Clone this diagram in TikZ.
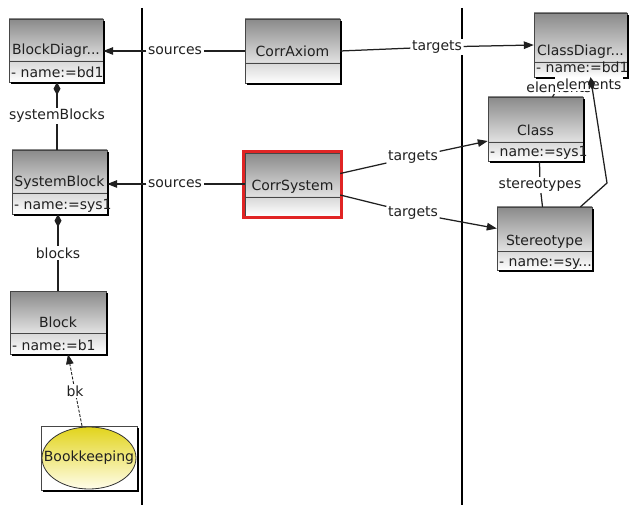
\documentclass[tikz,border=0pt]{standalone}
\usepackage{fontspec}
\setmainfont{DejaVu Sans}
\usetikzlibrary{arrows.meta,calc,fit}

\definecolor{hdtop}{HTML}{8A8A8A}
\definecolor{hdbot}{HTML}{E2E2E2}
\definecolor{attop}{HTML}{D8D8D8}
\definecolor{inktext}{HTML}{202020}
\definecolor{ylwtop}{HTML}{E2D41C}
\definecolor{ylwbot}{HTML}{FFFDEA}
\definecolor{selred}{HTML}{E02424}

\tikzset{
  txt/.style={font=\fontsize{14}{16}\selectfont, text=inktext, inner sep=0pt},
  lbl/.style={txt, fill=white, inner sep=1.5pt},
  boxline/.style={draw=gray!55!black, line width=0.8pt},
  boxshadow/.style={draw=black, line width=2pt},
  conn/.style={draw=inktext, line width=1.25pt},
  tri/.style={-{Triangle[length=10pt,width=7.5pt]}},
  dmd/.style={{Diamond[length=13pt,width=7pt]}-},
  lane/.style={draw=black, line width=1.8pt}
}

% class box: name, left, top, right, divider, bottom, title, attribute
\newcommand\umlclass[8]{%
  \shade[top color=hdtop,bottom color=hdbot] (#2,#3) rectangle (#4,#5);
  \shade[top color=attop,bottom color=white] (#2,#5) rectangle (#4,#6);
  \draw[boxline] (#2,#3) rectangle (#4,#6);
  \draw[boxline] (#2,#5) -- (#4,#5);
  \draw[boxshadow] (#4+1,#3+2) -- (#4+1,#6+1) -- (#2+2,#6+1);
  \node[txt,anchor=base] at ({(#2+#4)/2},#5-6) {#7};
  \node[txt,anchor=base west] at (#2+2,#6-4) {#8};
  \node[inner sep=0pt,fit={(#2,#3) (#4,#6)}] (#1) {};
}

\begin{document}
\begin{tikzpicture}[x=1pt,y=-1pt]
\useasboundingbox[fill=white] (0,0) rectangle (629,505);

% swimlane separators
\draw[lane] (142,8) -- (142,505);
\draw[lane] (462,8) -- (462,505);

% left lane
\umlclass{BlockDiagram}{9}{19}{103}{61}{82}{BlockDiagr...}{- name:=bd1}
\umlclass{SystemBlock}{12}{150}{107}{193}{214}{SystemBlock}{- name:=sys1}
\umlclass{Block}{10}{291}{106}{333}{354}{Block}{- name:=b1}

% bookkeeping element
\fill[white] (41,426) rectangle (137,490);
\shade[top color=ylwtop,bottom color=ylwbot,draw=gray!40!black,line width=0.8pt]
  (89,458) ellipse [x radius=47, y radius=31];
\draw[boxline] (41,426) rectangle (137,490);
\draw[boxshadow] (138,428) -- (138,491) -- (43,491);
\node[inner sep=0pt,fit={(41,426) (137,490)}] (Bookkeeping) {};
\node[txt] at (89,458) {Bookkeeping};

% middle lane
\umlclass{CorrAxiom}{245}{19}{340}{63}{83}{CorrAxiom}{}
\umlclass{CorrSystem}{245}{153}{340}{197}{216}{CorrSystem}{}
\draw[draw=selred,line width=2.4pt] (243.5,151.5) rectangle (341.5,217.5);

% right lane
\umlclass{ClassDiagram}{534}{13}{627}{62}{77}{ClassDiagr...}{- name:=bd1}
\umlclass{Class}{488}{97}{583}{142}{161}{Class}{- name:=sys1}
\umlclass{Stereotype}{497}{207}{592}{251}{270}{Stereotype}{- name:=sy...}

% sources
\node[lbl] (src1) at (175,51) {sources};
\draw[conn] (CorrAxiom.west) -- (src1);
\draw[conn,tri] (src1) -- (BlockDiagram.east |- src1);
\node[lbl] (src2) at (175,184) {sources};
\draw[conn] (CorrSystem.west |- src2) -- (src2);
\draw[conn,tri] (src2) -- (SystemBlock.east |- src2);

% targets
\node[lbl] (tg1) at (437,47) {targets};
\draw[conn] (CorrAxiom.east) -- (tg1);
\draw[conn,tri] (tg1) -- (ClassDiagram.west);
\node[lbl] (tg2) at (413,157) {targets};
\draw[conn] ($(CorrSystem.east)+(0,-11)$) -- (tg2);
\draw[conn,tri] (tg2) -- ($(Class.west)+(0,12)$);
\node[lbl] (tg3) at (413,213) {targets};
\draw[conn] ($(CorrSystem.east)+(0,10.5)$) -- (tg3);
\draw[conn,tri] (tg3) -- ($(Stereotype.west)+(0,-10)$);

% containment
\node[lbl] (sb) at (57,116) {systemBlocks};
\draw[conn,dmd] (BlockDiagram.south -| sb) -- (sb);
\draw[conn] (sb) -- (sb |- SystemBlock.north);
\node[lbl] (bl) at (58,253) {blocks};
\draw[conn,dmd] (bl |- SystemBlock.south) -- (bl);
\draw[conn] (bl) -- (bl |- Block.north);

% bookkeeping reference
\node[lbl] (bk) at (75,391) {bk};
\draw[conn,line width=0.9pt,dash pattern=on 3pt off 1.5pt] ($(Bookkeeping.north)+(-7,0)$) -- (bk);
\draw[conn,line width=0.9pt,dash pattern=on 3pt off 1.5pt,tri] (bk) -- ($(Block.south)+(10,0)$);

% class diagram internals
\node[lbl] (st) at (540,185) {stereotypes};
\draw[conn] ($(Class.south)+(4,0)$) -- (st);
\draw[conn] (st) -- ($(Stereotype.north)+(-2,0)$);
\node[lbl] (el1) at (559,87) {elements};
\draw[conn] ($(Class.north)+(17,0)$) -- (el1);
\node[lbl] (el2) at (589,84) {elements};
\draw[conn,dmd] ($(ClassDiagram.south)+(10,0)$) -- (607,183) -- ($(Stereotype.north)+(36,0)$);
\end{tikzpicture}
\end{document}
